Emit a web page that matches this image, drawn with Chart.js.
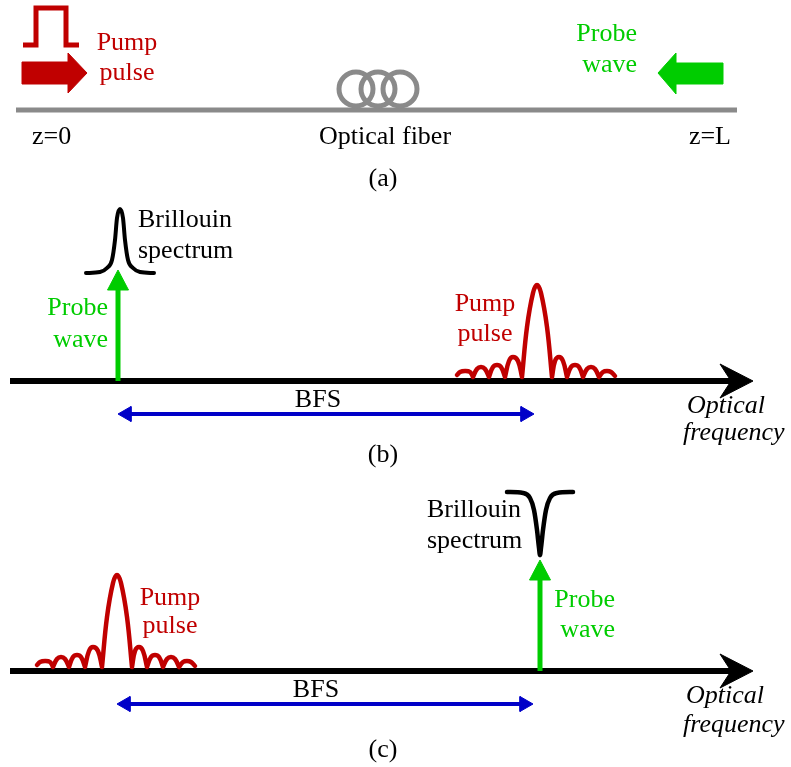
<!DOCTYPE html>
<html>
<head>
<meta charset="utf-8">
<script src="https://cdn.jsdelivr.net/npm/chart.js@4.4.1/dist/chart.umd.min.js"></script>
<style>
  html, body { margin: 0; background: #ffffff; }
  canvas { display: block; }
</style>
</head>
<body>
<canvas id="sketch" width="791" height="767" style="width:791px;height:767px"></canvas>
<script>
const RED = "#c00000";
const GREEN = "#00cc00";
const BLUE = "#0000c8";
const GREY = "#8a8a8a";
const BLACK = "#000000";

// (a) fibre with the pump pulse and the probe wave entering from opposite ends
const FIBER_X = [16, 737];
const FIBER_Y = [110, 110];
const COIL_X = [356, 378, 400];
const COIL_Y = [89, 89, 89];
const PULSE_RECT_X = [23, 36, 36, 66, 66, 79];
const PULSE_RECT_Y = [45, 45, 8, 8, 45, 45];
const PUMP_ARROW_X = [22, 68, 68, 87, 68, 68, 22, 22];
const PUMP_ARROW_Y = [62, 62, 53, 73, 93, 84, 84, 62];
const PROBE_ARROW_X = [723, 676, 676, 658, 676, 676, 723, 723];
const PROBE_ARROW_Y = [63, 63, 53, 73, 94, 84, 84, 63];

// pump spectrum lobes: offset from the main lobe, height above the axis
const LOBE_DX = [
  [-80, -77, -72, -67, -64],
  [-64, -60, -56, -52, -48],
  [-48, -44, -40, -36, -32],
  [-32, -28, -24, -19, -15],
  [-15, -10, -4, 0, 4, 10, 15],
  [15, 18, 22, 26, 30],
  [30, 34, 38, 42, 46],
  [46, 50, 54, 58, 62],
  [62, 66, 70, 74, 78]
];
const LOBE_H = [
  [2, 5, 6, 5, 0],
  [0, 8, 10, 8, 0],
  [0, 10, 12, 10, 0],
  [0, 16, 20, 16, 0],
  [0, 50, 84, 92, 84, 50, 0],
  [0, 16, 20, 16, 0],
  [0, 10, 12, 10, 0],
  [0, 8, 10, 8, 0],
  [0, 5, 6, 5, 1]
];

// Brillouin gain curve in (b), loss curve in (c)
const GAIN_X = [86, 100, 107, 112, 115, 117, 120, 123, 125, 128, 133, 140, 154];
const GAIN_Y = [273, 272, 268, 260, 240, 218, 209, 218, 240, 260, 268, 272, 273];
const LOSS_X = [507, 523, 530, 534, 537, 539, 540, 541, 543, 546, 550, 557, 573];
const LOSS_Y = [492, 493, 498, 510, 530, 548, 555, 548, 530, 510, 498, 493, 492];

// per-panel positions for (b) and (c)
const AXIS_Y = [381, 671];
const AXIS_START = 10;
const AXIS_NOTCH = 731;
const AXIS_HEAD_X = [720, 753, 720, 731, 720];
const AXIS_HEAD_DY = [-17, 0, 17, 0, -17];
const PUMP_CENTER_X = [537, 117];
const PUMP_BASE_Y = [377, 667];
const PROBE_X = [118, 540];
const PROBE_TIP_Y = [270, 560];
const BFS_Y = [414, 704];
const BFS_FROM = [118, 117];
const BFS_TO = [534, 533];

const LABELS = [
  { text: "Pump", x: 127, y: 50, color: RED, align: "center" },
  { text: "pulse", x: 127, y: 80, color: RED, align: "center" },
  { text: "Probe", x: 637, y: 41, color: GREEN, align: "right" },
  { text: "wave", x: 637, y: 72, color: GREEN, align: "right" },
  { text: "z=0", x: 32, y: 144, color: BLACK, align: "left" },
  { text: "Optical fiber", x: 385, y: 144, color: BLACK, align: "center" },
  { text: "z=L", x: 731, y: 144, color: BLACK, align: "right" },
  { text: "(a)", x: 383, y: 186, color: BLACK, align: "center" },

  { text: "Brillouin", x: 138, y: 227, color: BLACK, align: "left" },
  { text: "spectrum", x: 138, y: 258, color: BLACK, align: "left" },
  { text: "Probe", x: 108, y: 315, color: GREEN, align: "right" },
  { text: "wave", x: 108, y: 347, color: GREEN, align: "right" },
  { text: "Pump", x: 485, y: 311, color: RED, align: "center" },
  { text: "pulse", x: 485, y: 341, color: RED, align: "center" },
  { text: "BFS", x: 318, y: 407, color: BLACK, align: "center" },
  { text: "Optical", x: 687, y: 413, color: BLACK, align: "left", italic: true },
  { text: "frequency", x: 683, y: 440, color: BLACK, align: "left", italic: true },
  { text: "(b)", x: 383, y: 462, color: BLACK, align: "center" },

  { text: "Brillouin", x: 427, y: 517, color: BLACK, align: "left" },
  { text: "spectrum", x: 427, y: 548, color: BLACK, align: "left" },
  { text: "Probe", x: 615, y: 607, color: GREEN, align: "right" },
  { text: "wave", x: 615, y: 637, color: GREEN, align: "right" },
  { text: "Pump", x: 170, y: 605, color: RED, align: "center" },
  { text: "pulse", x: 170, y: 633, color: RED, align: "center" },
  { text: "BFS", x: 316, y: 697, color: BLACK, align: "center" },
  { text: "Optical", x: 686, y: 703, color: BLACK, align: "left", italic: true },
  { text: "frequency", x: 683, y: 732, color: BLACK, align: "left", italic: true },
  { text: "(c)", x: 383, y: 757, color: BLACK, align: "center" }
];

const xy = (xs, ys) => xs.map((x, i) => ({ x, y: ys[i] }));

function line(data, color, width, extra) {
  return Object.assign({
    data, showLine: true, borderColor: color, borderWidth: width,
    pointRadius: 0, fill: false, tension: 0
  }, extra || {});
}

function polygon(data, color) {
  return {
    data, showLine: true, borderColor: color, backgroundColor: color,
    borderWidth: 1, pointRadius: 0, fill: "shape", tension: 0
  };
}

// each lobe is its own segment so the curve has cusps where it meets the axis
function pulsePoints(cx, base) {
  const pts = [];
  LOBE_DX.forEach((lobe, i) => {
    lobe.forEach((dx, j) => pts.push({ x: cx + dx, y: base - LOBE_H[i][j] }));
    pts.push({ x: cx + lobe[lobe.length - 1], y: null });
  });
  return pts;
}

const datasets = [];

// (a)
datasets.push(polygon(xy(PUMP_ARROW_X, PUMP_ARROW_Y), RED));
datasets.push(polygon(xy(PROBE_ARROW_X, PROBE_ARROW_Y), GREEN));
datasets.push(line(xy(PULSE_RECT_X, PULSE_RECT_Y), RED, 5, { borderJoinStyle: "miter" }));
datasets.push({
  data: xy(COIL_X, COIL_Y), showLine: false, pointStyle: "circle", pointRadius: 17,
  pointBorderWidth: 5, pointBorderColor: GREY, pointBackgroundColor: "rgba(0,0,0,0)"
});
datasets.push(line(xy(FIBER_X, FIBER_Y), GREY, 5));

// (b) and (c)
datasets.push(line(xy(GAIN_X, GAIN_Y), BLACK, 4, { cubicInterpolationMode: "monotone", borderCapStyle: "round" }));
datasets.push(line(xy(LOSS_X, LOSS_Y), BLACK, 4.5, { cubicInterpolationMode: "monotone", borderCapStyle: "round" }));

[0, 1].forEach((p) => {
  const ay = AXIS_Y[p];
  datasets.push(line(pulsePoints(PUMP_CENTER_X[p], PUMP_BASE_Y[p]), RED, 4.5,
    { tension: 0.4, borderCapStyle: "round", borderJoinStyle: "round" }));

  const px = PROBE_X[p], tip = PROBE_TIP_Y[p];
  datasets.push(polygon(xy([px, px + 10.5, px - 10.5, px], [tip, tip + 20, tip + 20, tip]), GREEN));
  datasets.push(line(xy([px, px], [ay, tip + 18]), GREEN, 5));

  const by = BFS_Y[p], from = BFS_FROM[p], to = BFS_TO[p];
  datasets.push(polygon(xy([from, from + 13, from + 13, from], [by, by - 7.5, by + 7.5, by]), BLUE));
  datasets.push(polygon(xy([to, to - 13, to - 13, to], [by, by - 7.5, by + 7.5, by]), BLUE));
  datasets.push(line(xy([from + 10, to - 10], [by, by]), BLUE, 4));

  datasets.push(polygon(xy(AXIS_HEAD_X, AXIS_HEAD_DY.map((d) => ay + d)), BLACK));
  datasets.push(line(xy([AXIS_START, AXIS_NOTCH], [ay, ay]), BLACK, 6));
});

const labelPlugin = {
  id: "labels",
  afterDatasetsDraw(chart) {
    const { ctx, scales } = chart;
    ctx.save();
    ctx.textBaseline = "alphabetic";
    LABELS.forEach((l) => {
      ctx.font = (l.italic ? "italic " : "") + '26px "Liberation Serif", "Times New Roman", serif';
      ctx.fillStyle = l.color;
      ctx.textAlign = l.align;
      ctx.fillText(l.text, scales.x.getPixelForValue(l.x), scales.y.getPixelForValue(l.y));
    });
    ctx.restore();
  }
};

new Chart(document.getElementById("sketch"), {
  type: "scatter",
  data: { datasets },
  options: {
    responsive: false,
    animation: false,
    devicePixelRatio: 1,
    events: [],
    layout: { padding: 0, autoPadding: false },
    plugins: { legend: { display: false }, tooltip: { enabled: false } },
    scales: {
      x: { type: "linear", min: 0, max: 791, display: false },
      y: { type: "linear", min: 0, max: 767, reverse: true, display: false }
    }
  },
  plugins: [labelPlugin]
});
</script>
</body>
</html>
